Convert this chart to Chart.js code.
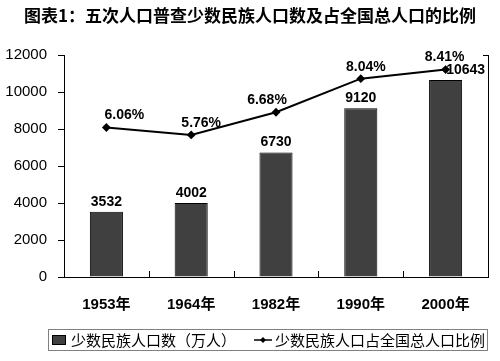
<!DOCTYPE html>
<html>
<head>
<meta charset="utf-8">
<script src="https://cdn.jsdelivr.net/npm/chart.js@4/dist/chart.umd.min.js"></script>
<style>
  html, body { margin: 0; padding: 0; background: #fff; }
</style>
</head>
<body>
<canvas id="chart" width="500" height="361"></canvas>
<script>
const years = ["1953年", "1964年", "1982年", "1990年", "2000年"];
const minorityPop = [3532, 4002, 6730, 9120, 10643]; // 万人
const minorityShare = [6.06, 5.76, 6.68, 8.04, 8.41]; // %
const popTickStep = 2000;
const popMax = 12000;
const shareMax = 9;

const SANS = "'Liberation Sans', Arial, 'Noto Sans CJK SC', sans-serif";
const CJK = "'Noto Sans CJK SC', sans-serif";

// value labels, small inner ticks, and the boxed legend
const annotate = {
  id: "annotate",
  afterDatasetsDraw(chart, args, opts) {
    const ctx = chart.ctx;
    const area = chart.chartArea;
    ctx.save();
    ctx.fillStyle = "#000";
    ctx.font = "bold 14px " + SANS;
    ctx.textAlign = "center";
    ctx.textBaseline = "bottom";
    chart.getDatasetMeta(0).data.forEach((bar, i) => {
      ctx.fillText(String(minorityPop[i]), bar.x + opts.barShift[i], bar.y - 3);
    });
    chart.getDatasetMeta(1).data.forEach((pt, i) => {
      ctx.fillText(minorityShare[i].toFixed(2) + "%", pt.x + opts.pctShift[i], pt.y - 5);
    });

    // category separators on the x axis, pointing up
    const x = chart.scales.x;
    ctx.strokeStyle = "#000";
    ctx.lineWidth = 1;
    for (let i = 1; i < years.length; i++) {
      const px = Math.round((x.getPixelForValue(i - 1) + x.getPixelForValue(i)) / 2) + 0.5;
      ctx.beginPath();
      ctx.moveTo(px, area.bottom);
      ctx.lineTo(px, area.bottom - 6);
      ctx.stroke();
    }
    // top tick on the right axis
    ctx.beginPath();
    ctx.moveTo(area.right - 5, area.top + 0.5);
    ctx.lineTo(area.right, area.top + 0.5);
    ctx.stroke();
    ctx.restore();
  },
  afterDraw(chart) {
    const ctx = chart.ctx;
    ctx.save();
    ctx.strokeStyle = "#808080";
    ctx.lineWidth = 1;
    ctx.strokeRect(48.5, 329.5, 439, 21);

    ctx.fillStyle = "#404040";
    ctx.fillRect(52, 335, 14, 10);
    ctx.strokeStyle = "#000";
    ctx.strokeRect(52.5, 335.5, 13, 9);

    ctx.fillStyle = "#000";
    ctx.font = "15px " + CJK;
    ctx.textAlign = "left";
    ctx.textBaseline = "middle";
    ctx.fillText(chart.data.datasets[0].label, 71, 340);

    ctx.lineWidth = 1.5;
    ctx.beginPath();
    ctx.moveTo(254, 340);
    ctx.lineTo(272, 340);
    ctx.stroke();
    ctx.beginPath();
    ctx.moveTo(263, 337);
    ctx.lineTo(266, 340);
    ctx.lineTo(263, 343);
    ctx.lineTo(260, 340);
    ctx.closePath();
    ctx.fill();
    ctx.fillText(chart.data.datasets[1].label, 275, 340);
    ctx.restore();
  }
};

new Chart(document.getElementById("chart"), {
  data: {
    labels: years,
    datasets: [
      {
        type: "bar",
        label: "少数民族人口数（万人）",
        data: minorityPop,
        yAxisID: "y",
        backgroundColor: "#404040",
        borderColor: "#000",
        borderWidth: 1,
        categoryPercentage: 1,
        barPercentage: 0.39,
        order: 1
      },
      {
        type: "line",
        label: "少数民族人口占全国总人口比例",
        data: minorityShare,
        yAxisID: "y2",
        borderColor: "#000",
        borderWidth: 2,
        backgroundColor: "#000",
        pointStyle: "rectRot",
        pointRadius: 3,
        tension: 0,
        order: 0
      }
    ]
  },
  options: {
    responsive: false,
    animation: false,
    layout: { padding: 0 },
    plugins: {
      legend: { display: false },
      tooltip: { enabled: false },
      title: {
        display: true,
        text: "图表1：五次人口普查少数民族人口数及占全国总人口的比例",
        color: "#000",
        font: { family: CJK, size: 17, weight: "bold" },
        padding: { top: 5, bottom: 29.6 }
      },
      annotate: {
        barShift: [0, 0, 0, 0, 20],
        pctShift: [18, 10, -9, 5, -1]
      }
    },
    scales: {
      x: {
        grid: { display: false },
        border: { display: true, color: "#000", width: 1 },
        ticks: {
          color: "#000",
          padding: 11,
          font: { family: SANS, size: 15, weight: "bold" }
        },
        afterFit: (s) => { s.height = 84; }
      },
      y: {
        position: "left",
        min: 0,
        max: popMax,
        ticks: {
          stepSize: popTickStep,
          color: "#000",
          padding: 11,
          font: { family: SANS, size: 15 },
          callback: (v) => String(v)
        },
        grid: { drawOnChartArea: false, tickLength: 6, color: "#000" },
        border: { display: true, color: "#000", width: 1 },
        afterFit: (s) => { s.width = 64; }
      },
      y2: {
        position: "right",
        min: 0,
        max: shareMax,
        ticks: { display: false },
        grid: { display: false },
        border: { display: true, color: "#000", width: 1 },
        afterFit: (s) => { s.width = 12; }
      }
    }
  },
  plugins: [annotate]
});
</script>
</body>
</html>
